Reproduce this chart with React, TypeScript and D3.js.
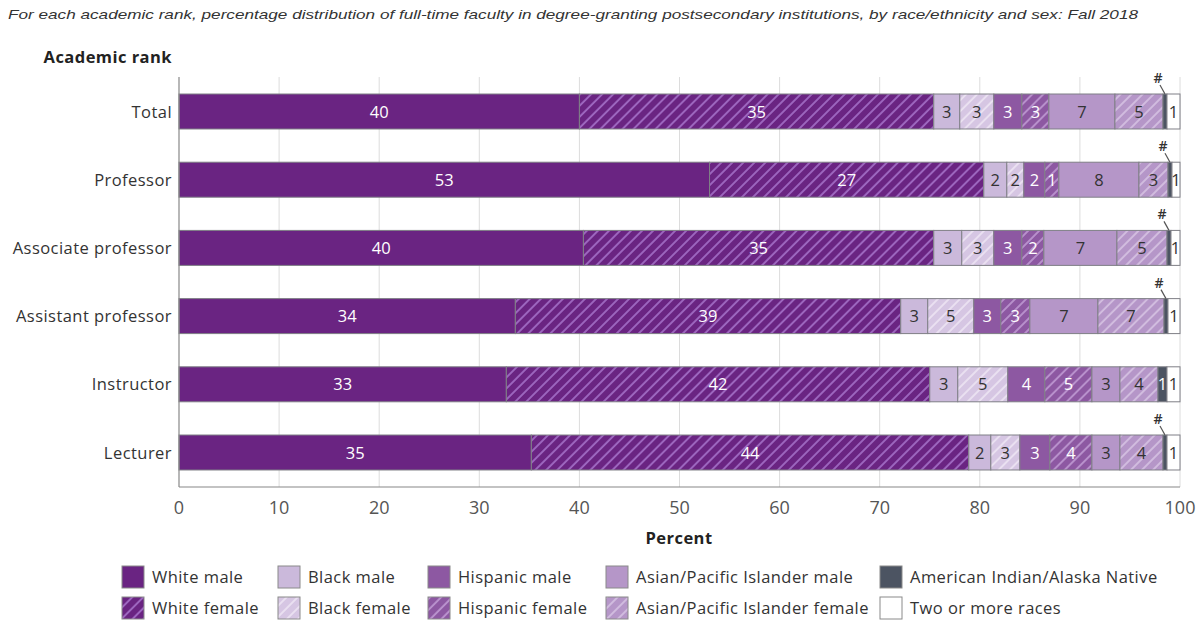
import React from "react";
import * as d3 from "d3";

const categories = ["Total", "Professor", "Associate professor", "Assistant professor", "Instructor", "Lecturer"];
const seriesNames = [
  "White male", "White female", "Black male", "Black female", "Hispanic male",
  "Hispanic female", "Asian/Pacific Islander male", "Asian/Pacific Islander female",
  "American Indian/Alaska Native", "Two or more races",
];
const whiteMale = [40.0, 53.0, 40.4, 33.6, 32.7, 35.2];
const whiteFemale = [35.4, 27.4, 35.0, 38.5, 42.3, 43.7];
const blackMale = [2.6, 2.3, 2.8, 2.7, 2.8, 2.2];
const blackFemale = [3.4, 1.7, 3.2, 4.6, 5.0, 2.9];
const hispanicMale = [2.8, 2.1, 2.8, 2.7, 3.7, 3.0];
const hispanicFemale = [2.7, 1.4, 2.2, 2.9, 4.7, 4.2];
const asianMale = [6.6, 8.0, 7.3, 6.8, 2.8, 2.8];
const asianFemale = [4.8, 2.9, 5.0, 6.6, 3.8, 4.3];
const aian = [0.4, 0.4, 0.4, 0.4, 0.9, 0.4];
const twoOrMore = [1.3, 0.8, 0.9, 1.2, 1.3, 1.3];
const xTicks = [0, 10, 20, 30, 40, 50, 60, 70, 80, 90, 100];

const seriesValues = [whiteMale, whiteFemale, blackMale, blackFemale, hispanicMale, hispanicFemale, asianMale, asianFemale, aian, twoOrMore];

const styles = [
  { fill: "#6a2482", stripe: null, text: "#fff" },
  { fill: "#6a2482", stripe: "#b07fd6", text: "#fff" },
  { fill: "#cbb9db", stripe: null, text: "#333" },
  { fill: "#d6c6e3", stripe: "#f2ebf7", text: "#333" },
  { fill: "#8d58a2", stripe: null, text: "#fff" },
  { fill: "#8d58a2", stripe: "#c9a6dc", text: "#fff" },
  { fill: "#b596c8", stripe: null, text: "#333" },
  { fill: "#b596c8", stripe: "#dccbe8", text: "#333" },
  { fill: "#4c5462", stripe: null, text: "#fff" },
  { fill: "#ffffff", stripe: null, text: "#333" },
];

const FONT = "'Open Sans', sans-serif";
const LS = 0.45;

export default function App() {
  const W = 1199, H = 626;
  const x = d3.scaleLinear().domain([0, 100]).range([179, 1180]);
  const y = d3.scaleBand<string>().domain(categories).range([77.4, 486.6]).paddingInner(0.487).paddingOuter(0.2435);
  const table = categories.map((c, i) => {
    const row: any = { cat: c };
    seriesNames.forEach((s, j) => (row[s] = seriesValues[j][i]));
    return row;
  });
  const stacked = d3.stack<any>().keys(seriesNames)(table);
  const fillFor = (j: number) => (styles[j].stripe ? `url(#pat${j})` : styles[j].fill);

  const legendCols = [122, 278, 428, 606, 880];
  const legendRows = [566, 597];

  return (
    <svg width={W} height={H} style={{ position: "absolute", left: 0, top: 0, background: "#fff" }}>
      <defs>
        {styles.map((s, j) =>
          s.stripe ? (
            <pattern key={j} id={`pat${j}`} patternUnits="userSpaceOnUse" width={7.8} height={7.8} patternTransform="rotate(45)">
              <rect width={7.8} height={7.8} fill={s.fill} />
              <line x1={1} y1={0} x2={1} y2={7.8} stroke={s.stripe} strokeWidth={1.4} />
            </pattern>
          ) : null
        )}
      </defs>
      <text x={8} y={19} fontFamily="'Liberation Sans', Arial, sans-serif" fontStyle="italic" fontSize={13.5} fill="#333" textLength={1130} lengthAdjust="spacingAndGlyphs">
        For each academic rank, percentage distribution of full-time faculty in degree-granting postsecondary institutions, by race/ethnicity and sex: Fall 2018
      </text>
      <text x={172} y={63} textAnchor="end" fontFamily={FONT} fontWeight={700} fontSize={16.5} letterSpacing={LS} fill="#222">Academic rank</text>

      {xTicks.slice(1).map((t) => (
        <line key={t} x1={x(t)} x2={x(t)} y1={77} y2={487} stroke="#dcdcdc" strokeWidth={1} />
      ))}

      {stacked.map((layer, j) =>
        layer.map((d, i) => {
          const cat = categories[i];
          const x0 = x(d[0]), x1 = x(d[1]);
          const yy = y(cat)!;
          const bw = y.bandwidth();
          const v = seriesValues[j][i];
          const r = Math.round(v);
          const cx = (x0 + x1) / 2;
          return (
            <g key={`${j}-${i}`}>
              <rect x={x0} y={yy} width={x1 - x0} height={bw} fill={fillFor(j)} stroke="#7f7f86" strokeWidth={1} />
              {r > 0 ? (
                <text x={cx} y={yy + bw / 2 + 6} textAnchor="middle" fontFamily={FONT} fontSize={16.5} fill={styles[j].text}>{r}</text>
              ) : (
                <g>
                  <text x={cx - 7} y={yy - 11} textAnchor="middle" fontFamily={FONT} fontSize={14} fontWeight={600} fill="#333">#</text>
                  <line x1={cx - 5} y1={yy - 9} x2={cx} y2={yy} stroke="#555" strokeWidth={1.2} />
                </g>
              )}
            </g>
          );
        })
      )}

      <line x1={179} x2={179} y1={77} y2={487} stroke="#888" strokeWidth={1.2} />
      <line x1={179} x2={1180} y1={487} y2={487} stroke="#888" strokeWidth={1.2} />

      {categories.map((c) => (
        <text key={c} x={172} y={y(c)! + y.bandwidth() / 2 + 6} textAnchor="end" fontFamily={FONT} fontSize={16.5} letterSpacing={LS} fill="#333">{c}</text>
      ))}

      {xTicks.map((t) => (
        <text key={t} x={x(t)} y={514} textAnchor="middle" fontFamily={FONT} fontSize={18} fill="#555">{t}</text>
      ))}
      <text x={679} y={544} textAnchor="middle" fontFamily={FONT} fontWeight={700} fontSize={16.5} letterSpacing={LS} fill="#222">Percent</text>

      {seriesNames.map((s, j) => {
        const col = Math.floor(j / 2);
        const row = j % 2;
        const lx = legendCols[col];
        const ly = legendRows[row];
        return (
          <g key={s}>
            <rect x={lx} y={ly} width={22} height={22} fill={fillFor(j)} stroke="#8a8a8a" strokeWidth={1} />
            <text x={lx + 30} y={ly + 17} fontFamily={FONT} fontSize={16.5} letterSpacing={LS} fill="#333">{s}</text>
          </g>
        );
      })}
    </svg>
  );
}
